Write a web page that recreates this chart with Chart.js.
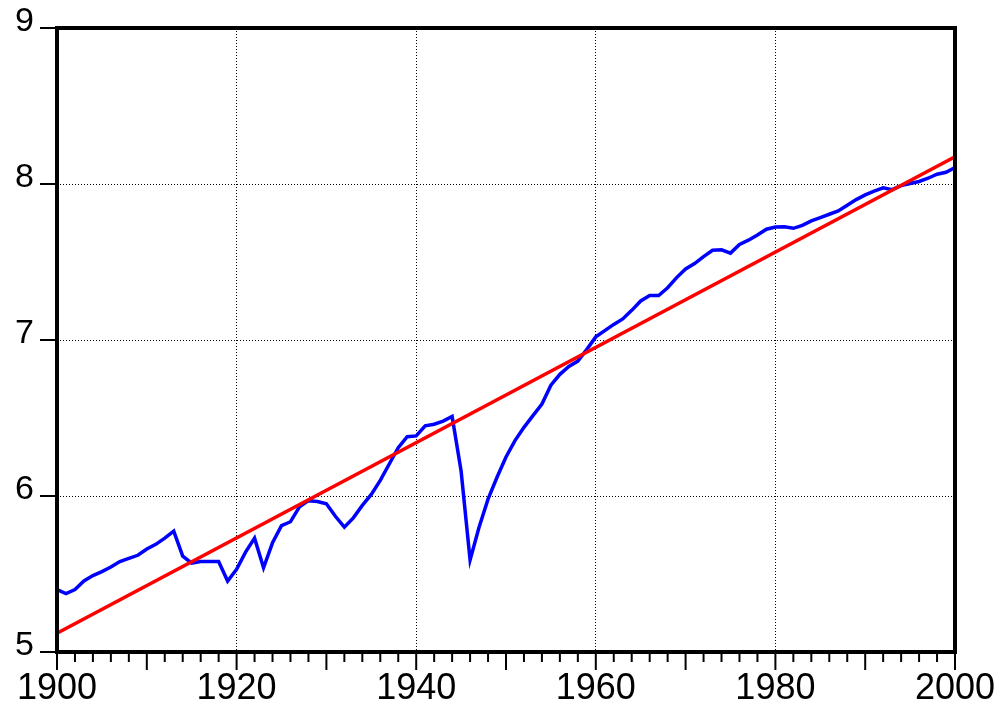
<!DOCTYPE html>
<html><head><meta charset="utf-8">
<script src="https://cdn.jsdelivr.net/npm/chart.js@4/dist/chart.umd.min.js"></script>
<style>html,body{margin:0;padding:0;background:#fff}#wrap{width:998px;height:706px}</style>
</head><body><div id="wrap"><canvas id="c" width="998" height="706"></canvas></div>
<script>
const years = [1900,1901,1902,1903,1904,1905,1906,1907,1908,1909,
1910,1911,1912,1913,1914,1915,1916,1917,1918,1919,
1920,1921,1922,1923,1924,1925,1926,1927,1928,1929,
1930,1931,1932,1933,1934,1935,1936,1937,1938,1939,
1940,1941,1942,1943,1944,1945,1946,1947,1948,1949,
1950,1951,1952,1953,1954,1955,1956,1957,1958,1959,
1960,1961,1962,1963,1964,1965,1966,1967,1968,1969,
1970,1971,1972,1973,1974,1975,1976,1977,1978,1979,
1980,1981,1982,1983,1984,1985,1986,1987,1988,1989,
1990,1991,1992,1993,1994,1995,1996,1997,1998,1999,2000];
const values = [5.40,5.375,5.40,5.455,5.49,5.515,5.545,5.58,5.60,5.62,
5.66,5.69,5.73,5.775,5.615,5.57,5.58,5.58,5.58,5.455,
5.53,5.64,5.73,5.54,5.70,5.81,5.835,5.93,5.97,5.965,
5.95,5.87,5.80,5.86,5.94,6.01,6.10,6.205,6.31,6.38,
6.385,6.45,6.46,6.48,6.51,6.16,5.59,5.80,5.98,6.12,
6.25,6.355,6.44,6.515,6.59,6.71,6.78,6.83,6.865,6.94,
7.02,7.06,7.10,7.135,7.19,7.25,7.285,7.285,7.335,7.40,
7.455,7.49,7.535,7.575,7.578,7.557,7.613,7.64,7.673,7.71,
7.724,7.726,7.716,7.735,7.763,7.785,7.806,7.827,7.864,7.90,
7.93,7.955,7.975,7.964,7.99,8.003,8.016,8.037,8.063,8.075,8.105];
const trendYears = [1900, 2000];
const trendValues = [5.12, 8.175];
const xLabelYears = [1900, 1920, 1940, 1960, 1980, 2000];
const yGridValues = [6, 7, 8];

const framePlugin = {
  id: 'frame',
  afterDraw(chart) {
    const {ctx, chartArea: a, scales: {x, y}} = chart;
    ctx.save();
    ctx.strokeStyle = '#000';
    ctx.lineWidth = 2;
    x.ticks.forEach(t => {
      const px = x.getPixelForValue(t.value);
      const len = (t.value % 10 === 0) ? 18 : 10;
      ctx.beginPath();
      ctx.moveTo(px, a.bottom);
      ctx.lineTo(px, a.bottom + len);
      ctx.stroke();
    });
    y.ticks.forEach(t => {
      const py = y.getPixelForValue(t.value);
      ctx.beginPath();
      ctx.moveTo(a.left - 17, py);
      ctx.lineTo(a.left, py);
      ctx.stroke();
    });
    ctx.lineWidth = 4;
    ctx.strokeRect(a.left, a.top, a.right - a.left, a.bottom - a.top);
    ctx.restore();
  }
};

new Chart(document.getElementById('c'), {
  type: 'line',
  data: {
    datasets: [
      {
        label: 'trend',
        data: trendYears.map((yr, i) => ({x: yr, y: trendValues[i]})),
        borderColor: '#ff0000',
        borderWidth: 3.5,
        pointRadius: 0,
        tension: 0
      },
      {
        label: 'series',
        data: years.map((yr, i) => ({x: yr, y: values[i]})),
        borderColor: '#0000ff',
        borderWidth: 3.5,
        pointRadius: 0,
        tension: 0
      }
    ]
  },
  options: {
    responsive: false,
    devicePixelRatio: 1,
    animation: false,
    layout: {padding: {left: 0, top: 28, right: 43, bottom: 0}},
    plugins: {legend: {display: false}, tooltip: {enabled: false}},
    scales: {
      x: {
        type: 'linear',
        position: 'bottom',
        min: 1900, max: 2000,
        afterFit(s) { s.height = 54; s.paddingLeft = 0; s.paddingRight = 0; },
        ticks: {
          stepSize: 2,
          autoSkip: false,
          maxRotation: 0,
          padding: 15,
          color: '#000',
          font: {family: 'Liberation Sans', size: 36},
          callback: v => xLabelYears.includes(v) ? String(v) : ''
        },
        grid: {
          drawTicks: false,
          lineWidth: 1,
          color: c => (c.tick && c.tick.value % 20 === 0 && c.tick.value > 1900 && c.tick.value < 2000) ? '#000' : 'rgba(0,0,0,0)'
        },
        border: {display: false, dash: [1, 2]}
      },
      y: {
        min: 5, max: 9,
        afterFit(s) { s.width = 57; s.paddingTop = 0; s.paddingBottom = 0; },
        ticks: {
          stepSize: 1,
          padding: 23,
          labelOffset: -6,
          color: '#000',
          font: {family: 'Liberation Sans', size: 34}
        },
        grid: {
          drawTicks: false,
          lineWidth: 1,
          color: c => (c.tick && yGridValues.includes(c.tick.value)) ? '#000' : 'rgba(0,0,0,0)'
        },
        border: {display: false, dash: [1, 2]}
      }
    }
  },
  plugins: [framePlugin]
});
</script>
</body></html>
